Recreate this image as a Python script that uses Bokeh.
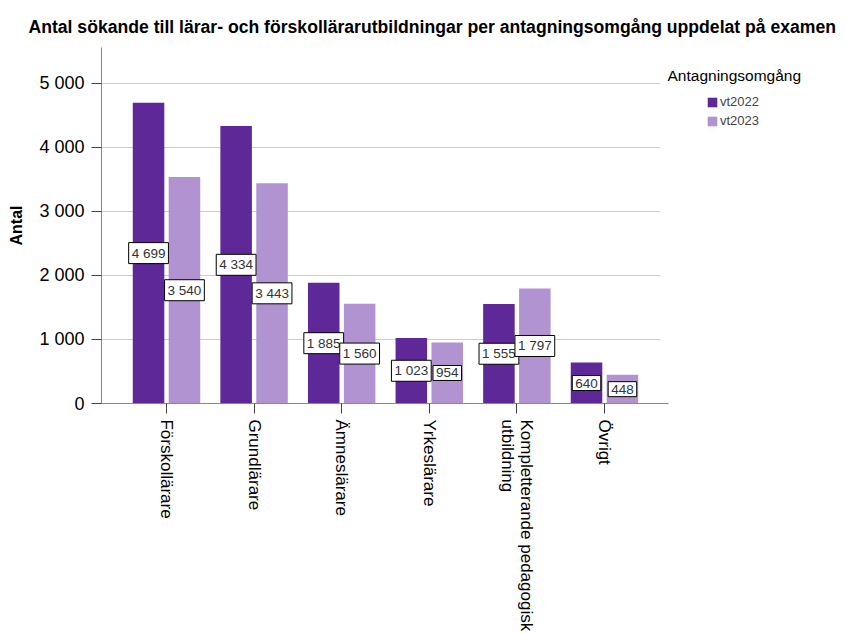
import math
from bokeh.plotting import figure
from bokeh.models import (ColumnDataSource, Range1d, FixedTicker, Label,
                          Legend, LegendItem)
from bokeh.core.properties import value
from bokeh.transform import dodge
from bokeh.embed import file_html
from bokeh.resources import INLINE

# ---- data ----
categories = ["Förskollärare", "Grundlärare", "Ämneslärare", "Yrkeslärare",
              "Kompletterande pedagogisk\nutbildning", "Övrigt"]
vt2022 = [4699, 4334, 1885, 1023, 1555, 640]
vt2023 = [3540, 3443, 1560, 954, 1797, 448]
series_names = ["vt2022", "vt2023"]
y_ticks = [0, 1000, 2000, 3000, 4000, 5000]

title_text = "Antal sökande till lärar- och förskollärarutbildningar per antagningsomgång uppdelat på examen"
legend_title = "Antagningsomgång"
y_label = "Antal"

FONT = "Liberation Sans"
C_DARK = "#5f2899"
C_LIGHT = "#b093d0"

# x extent (category units): plotting area, grid end, axis-line end
X_START = -0.742
X_END = 7.763
GRID_END = 5.639
AXIS_END = 5.731


def fmt(v):
    return f"{v:,}".replace(",", " ")


idx = list(range(len(categories)))
src = ColumnDataSource(dict(
    x=idx,
    a=vt2022, b=vt2023,
    ha=[v / 2 for v in vt2022], hb=[v / 2 for v in vt2023],
    la=[fmt(v) for v in vt2022], lb=[fmt(v) for v in vt2023],
))

p = figure(frame_width=745, frame_height=356,
           min_border_left=101, min_border_right=0,
           min_border_top=47, min_border_bottom=231,
           x_range=Range1d(X_START, X_END), y_range=Range1d(0, 5562),
           output_backend="svg", toolbar_location=None, tools="")
p.outline_line_color = None
p.background_fill_color = "white"

p.title.text = title_text
p.title.text_font = FONT
p.title.text_font_style = "bold"
p.title.text_font_size = "17.6px"
p.title.text_color = "black"
p.title.align = "left"
p.title.offset = -73
p.title.standoff = 22

# horizontal grid lines (stop before the legend area)
grid_y = y_ticks[1:]
p.segment(x0=[X_START] * len(grid_y), x1=[GRID_END] * len(grid_y),
          y0=grid_y, y1=grid_y, line_color="#cccccc", line_width=1)

ra = p.vbar(x=dodge("x", -0.205, range=p.x_range), top="a", width=0.36, source=src,
            fill_color=C_DARK, line_color=None)
rb = p.vbar(x=dodge("x", 0.205, range=p.x_range), top="b", width=0.36, source=src,
            fill_color=C_LIGHT, line_color=None)

for col, lab, off in (("ha", "la", -0.205), ("hb", "lb", 0.205)):
    p.text(x=dodge("x", off, range=p.x_range), y=col, text=lab, source=src,
           text_align="center", text_baseline="middle",
           text_font=value(FONT), text_font_size="13.5px", text_color="#333333",
           background_fill_color="white", border_line_color="black",
           border_line_width=1, padding=3)

# axes
p.xaxis.bounds = (X_START, AXIS_END)
p.xaxis.ticker = FixedTicker(ticks=idx)
p.xaxis.major_label_overrides = {i: c for i, c in zip(idx, categories)}
p.xaxis.major_label_orientation = -math.pi / 2
p.xaxis.major_label_text_font = FONT
p.xaxis.major_label_text_font_size = "17px"
p.xaxis.major_label_text_line_height = 1.0
p.xaxis.major_label_text_color = "black"
p.xaxis.major_tick_out = 10
p.xaxis.major_tick_in = 0
p.xaxis.minor_tick_out = 0
p.xaxis.minor_tick_in = 0
p.xaxis.major_label_standoff = 6
p.xaxis.axis_line_color = "#888888"
p.xaxis.major_tick_line_color = "#444444"

p.yaxis.ticker = FixedTicker(ticks=y_ticks)
p.yaxis.major_label_overrides = {t: fmt(t) for t in y_ticks}
p.yaxis.major_label_text_font = FONT
p.yaxis.major_label_text_font_size = "18px"
p.yaxis.major_label_text_color = "black"
p.yaxis.major_tick_out = 10
p.yaxis.major_tick_in = 0
p.yaxis.minor_tick_out = 0
p.yaxis.minor_tick_in = 0
p.yaxis.major_label_standoff = 7
p.yaxis.axis_line_color = "#888888"
p.yaxis.major_tick_line_color = "#444444"
p.yaxis.axis_label = y_label
p.yaxis.axis_label_text_font = FONT
p.yaxis.axis_label_text_font_style = "bold"
p.yaxis.axis_label_text_font_size = "16px"
p.yaxis.axis_label_text_color = "black"
p.yaxis.axis_label_standoff = 11

p.xgrid.grid_line_color = None
p.ygrid.grid_line_color = None

# legend title and legend inside the (extended) frame
p.add_layout(Label(x=566, y=328, x_units="screen", y_units="screen", text=legend_title,
                   text_font=FONT, text_font_size="15.5px", text_color="black",
                   text_baseline="middle", text_align="left"))

legend = Legend(items=[LegendItem(label=series_names[0], renderers=[ra]),
                       LegendItem(label=series_names[1], renderers=[rb])],
                location=(605, 275), orientation="vertical",
                margin=0, padding=0, spacing=4,
                glyph_width=12, glyph_height=12, label_height=14, label_standoff=2,
                label_text_font=FONT, label_text_font_size="13px",
                label_text_color="#444444",
                border_line_color=None, background_fill_color=None)
p.add_layout(legend)

open("out.html", "w").write(file_html(p, INLINE))
